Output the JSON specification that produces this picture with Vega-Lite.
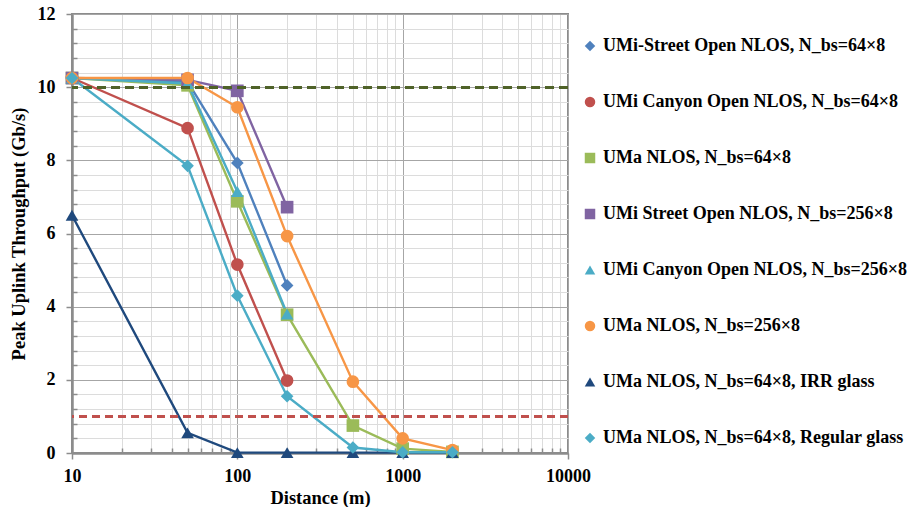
{
  "$schema": "https://vega.github.io/schema/vega-lite/v6.json",
  "width": 496,
  "height": 439,
  "padding": {"top": 5, "left": 9, "right": 0, "bottom": 0},
  "background": "white",
  "config": {
    "font": "Liberation Serif",
    "view": {"stroke": "#8c8c8c", "strokeWidth": 2},
    "axis": {
      "labelFont": "Liberation Serif", "labelFontWeight": "bold", "labelFontSize": 18, "labelColor": "#000",
      "titleFont": "Liberation Serif", "titleFontWeight": "bold", "titleFontSize": 18.5, "titleColor": "#000",
      "domainColor": "#8c8c8c", "domainWidth": 2.5, "tickColor": "#8c8c8c", "tickWidth": 1.5
    },
    "legend": {
      "labelFont": "Liberation Serif", "labelFontWeight": "bold", "labelFontSize": 18, "labelColor": "#000", "labelLimit": 400
    }
  },
  "data": {
    "values": [
      {"series": "UMi-Street Open NLOS, N_bs=64×8", "d": 10, "v": 10.25},
      {"series": "UMi-Street Open NLOS, N_bs=64×8", "d": 50, "v": 10.15},
      {"series": "UMi-Street Open NLOS, N_bs=64×8", "d": 100, "v": 7.93},
      {"series": "UMi-Street Open NLOS, N_bs=64×8", "d": 200, "v": 4.58},
      {"series": "UMi Canyon Open NLOS, N_bs=64×8", "d": 10, "v": 10.25},
      {"series": "UMi Canyon Open NLOS, N_bs=64×8", "d": 50, "v": 8.88},
      {"series": "UMi Canyon Open NLOS, N_bs=64×8", "d": 100, "v": 5.15},
      {"series": "UMi Canyon Open NLOS, N_bs=64×8", "d": 200, "v": 1.98},
      {"series": "UMa NLOS, N_bs=64×8", "d": 10, "v": 10.25},
      {"series": "UMa NLOS, N_bs=64×8", "d": 50, "v": 10.05},
      {"series": "UMa NLOS, N_bs=64×8", "d": 100, "v": 6.88},
      {"series": "UMa NLOS, N_bs=64×8", "d": 200, "v": 3.78},
      {"series": "UMa NLOS, N_bs=64×8", "d": 500, "v": 0.75},
      {"series": "UMa NLOS, N_bs=64×8", "d": 1000, "v": 0.12},
      {"series": "UMa NLOS, N_bs=64×8", "d": 2000, "v": 0.03},
      {"series": "UMi Street Open NLOS, N_bs=256×8", "d": 10, "v": 10.25},
      {"series": "UMi Street Open NLOS, N_bs=256×8", "d": 50, "v": 10.2},
      {"series": "UMi Street Open NLOS, N_bs=256×8", "d": 100, "v": 9.9},
      {"series": "UMi Street Open NLOS, N_bs=256×8", "d": 200, "v": 6.72},
      {"series": "UMi Canyon Open NLOS, N_bs=256×8", "d": 10, "v": 10.25},
      {"series": "UMi Canyon Open NLOS, N_bs=256×8", "d": 50, "v": 10.1},
      {"series": "UMi Canyon Open NLOS, N_bs=256×8", "d": 100, "v": 7.15},
      {"series": "UMi Canyon Open NLOS, N_bs=256×8", "d": 200, "v": 3.8},
      {"series": "UMa NLOS, N_bs=256×8", "d": 10, "v": 10.25},
      {"series": "UMa NLOS, N_bs=256×8", "d": 50, "v": 10.25},
      {"series": "UMa NLOS, N_bs=256×8", "d": 100, "v": 9.45},
      {"series": "UMa NLOS, N_bs=256×8", "d": 200, "v": 5.93},
      {"series": "UMa NLOS, N_bs=256×8", "d": 500, "v": 1.95},
      {"series": "UMa NLOS, N_bs=256×8", "d": 1000, "v": 0.4},
      {"series": "UMa NLOS, N_bs=256×8", "d": 2000, "v": 0.08},
      {"series": "UMa NLOS, N_bs=64×8, IRR glass", "d": 10, "v": 6.5},
      {"series": "UMa NLOS, N_bs=64×8, IRR glass", "d": 50, "v": 0.55},
      {"series": "UMa NLOS, N_bs=64×8, IRR glass", "d": 100, "v": 0.01},
      {"series": "UMa NLOS, N_bs=64×8, IRR glass", "d": 200, "v": 0.01},
      {"series": "UMa NLOS, N_bs=64×8, IRR glass", "d": 500, "v": 0.01},
      {"series": "UMa NLOS, N_bs=64×8, IRR glass", "d": 1000, "v": 0.01},
      {"series": "UMa NLOS, N_bs=64×8, IRR glass", "d": 2000, "v": 0.01},
      {"series": "UMa NLOS, N_bs=64×8, Regular glass", "d": 10, "v": 10.25},
      {"series": "UMa NLOS, N_bs=64×8, Regular glass", "d": 50, "v": 7.85},
      {"series": "UMa NLOS, N_bs=64×8, Regular glass", "d": 100, "v": 4.3},
      {"series": "UMa NLOS, N_bs=64×8, Regular glass", "d": 200, "v": 1.55},
      {"series": "UMa NLOS, N_bs=64×8, Regular glass", "d": 500, "v": 0.15},
      {"series": "UMa NLOS, N_bs=64×8, Regular glass", "d": 1000, "v": 0.02},
      {"series": "UMa NLOS, N_bs=64×8, Regular glass", "d": 2000, "v": 0.02}
    ]
  },
  "encoding": {
    "x": {
      "field": "d", "type": "quantitative",
      "scale": {"type": "log", "domain": [10, 10000], "nice": false},
      "axis": {
        "title": "Distance (m)", "format": "d", "labelOverlap": false, "tickMinStep": 1,
        "values": [10,20,30,40,50,60,70,80,90,100,200,300,400,500,600,700,800,900,1000,2000,3000,4000,5000,6000,7000,8000,9000,10000],
        "labelExpr": "indexof([10,100,1000,10000], datum.value) >= 0 ? datum.label : ''",
        "gridColor": {"condition": {"test": "indexof([10,100,1000,10000], datum.value) >= 0", "value": "#a6a6a6"}, "value": "#dcdcdc"},
        "tickSize": {"condition": {"test": "indexof([10,100,1000,10000], datum.value) >= 0", "value": 6}, "value": -5},
        "labelPadding": 8, "titlePadding": 3, "labelFlush": false
      }
    },
    "y": {
      "field": "v", "type": "quantitative",
      "scale": {"domain": [0, 12], "nice": false},
      "axis": {
        "title": "Peak Uplink Throughput (Gb/s)", "format": "d", "labelOverlap": false, "tickMinStep": 0.1, "tickCount": 100,
        "values": [0,0.4,0.8,1.2,1.6,2,2.4,2.8,3.2,3.6,4,4.4,4.8,5.2,5.6,6,6.4,6.8,7.2,7.6,8,8.4,8.8,9.2,9.6,10,10.4,10.8,11.2,11.6,12],
        "labelExpr": "indexof([0,2,4,6,8,10,12], datum.value) >= 0 ? datum.label : ''",
        "gridColor": {"condition": {"test": "indexof([0,2,4,6,8,10,12], datum.value) >= 0", "value": "#a6a6a6"}, "value": "#dcdcdc"},
        "tickSize": {"condition": {"test": "indexof([0,2,4,6,8,10,12], datum.value) >= 0", "value": 6}, "value": -5},
        "labelPadding": 11, "titlePadding": 9
      }
    },
    "color": {
      "field": "series", "type": "nominal",
      "scale": {
        "domain": ["UMi-Street Open NLOS, N_bs=64×8", "UMi Canyon Open NLOS, N_bs=64×8", "UMa NLOS, N_bs=64×8", "UMi Street Open NLOS, N_bs=256×8", "UMi Canyon Open NLOS, N_bs=256×8", "UMa NLOS, N_bs=256×8", "UMa NLOS, N_bs=64×8, IRR glass", "UMa NLOS, N_bs=64×8, Regular glass"],
        "range": ["#4F81BD", "#C0504D", "#9BBB59", "#8064A2", "#4BACC6", "#F79646", "#1F497D", "#4BACC6"]
      },
      "legend": {"title": null, "orient": "none", "legendX": 509, "legendY": 23, "padding": 0, "rowPadding": 38, "symbolSize": 110, "symbolStrokeWidth": 0, "labelOffset": 4}
    },
    "shape": {
      "field": "series", "type": "nominal",
      "scale": {
        "domain": ["UMi-Street Open NLOS, N_bs=64×8", "UMi Canyon Open NLOS, N_bs=64×8", "UMa NLOS, N_bs=64×8", "UMi Street Open NLOS, N_bs=256×8", "UMi Canyon Open NLOS, N_bs=256×8", "UMa NLOS, N_bs=256×8", "UMa NLOS, N_bs=64×8, IRR glass", "UMa NLOS, N_bs=64×8, Regular glass"],
        "range": ["diamond", "circle", "square", "square", "triangle-up", "circle", "triangle-up", "diamond"]
      }
    }
  },
  "layer": [
    {"mark": {"type": "line", "strokeWidth": 2.4}, "encoding": {"shape": null}},
    {"mark": {"type": "point", "filled": true, "opacity": 1, "size": 160}},
    {"mark": {"type": "rule", "color": "#4F6228", "strokeWidth": 2.5, "strokeDash": [9, 5]}, "encoding": {"y": {"datum": 10}, "x": null, "color": null, "shape": null}},
    {"mark": {"type": "rule", "color": "#C0504D", "strokeWidth": 2.5, "strokeDash": [8, 5]}, "encoding": {"y": {"datum": 1}, "x": null, "color": null, "shape": null}}
  ]
}
